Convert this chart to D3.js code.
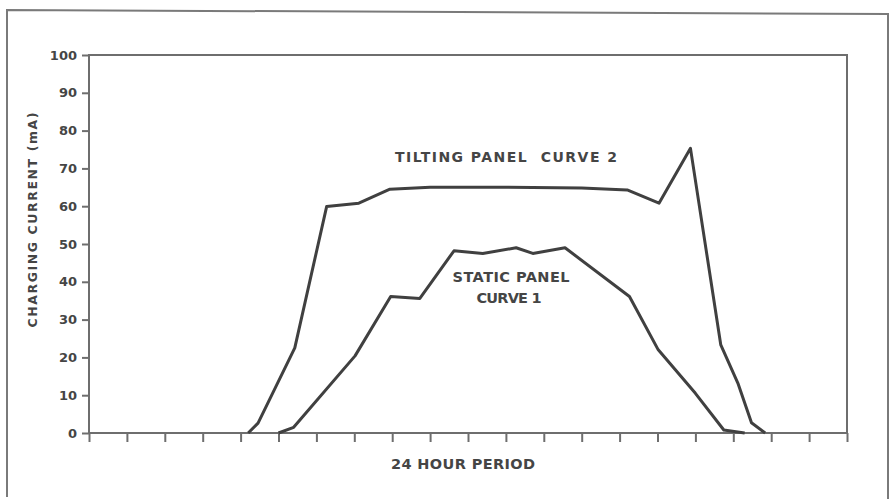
<!DOCTYPE html>
<html>
<head>
<meta charset="utf-8">
<script src="https://cdn.jsdelivr.net/npm/d3@7"></script>
<style>
  body { margin: 0; background: #fff; }
  text { font-family: "DejaVu Sans", sans-serif; font-weight: bold; fill: #454545; white-space: pre; }
</style>
</head>
<body>
<script>
// hour slots along the x axis (20 intervals), current in mA
var tiltX = [4.2, 4.46, 5.43, 6.27, 7.12, 7.94, 9, 11, 13, 14.2, 15.04, 15.87, 16.67, 17.12, 17.48, 17.84];
var tiltY = [0, 2.6, 22.5, 59.9, 60.8, 64.5, 65, 65, 64.8, 64.3, 60.8, 75.3, 23.3, 13.2, 2.7, 0];

var staticX = [5.0, 5.4, 7.02, 7.96, 8.73, 9.63, 10.39, 11.27, 11.71, 12.56, 14.26, 15.02, 16.0, 16.75, 17.3];
var staticY = [0, 1.5, 20.4, 36.1, 35.6, 48.2, 47.5, 49, 47.5, 49, 36.1, 22, 10.5, 0.8, 0];

var yTicks = [0, 10, 20, 30, 40, 50, 60, 70, 80, 90, 100];
var xTicks = d3.range(0, 21);

var W = 895, H = 499;
var plotLeft = 89, plotRight = 847, plotTop = 55, plotBottom = 433;

var svg = d3.select("body").append("svg")
	.attr("width", W)
	.attr("height", H);

// outer frame
svg.append("path")
	.attr("d", "M7,497 L7,10 L888,14 L888,499")
	.attr("fill", "none")
	.attr("stroke", "#7a7a7a")
	.attr("stroke-width", 2);

var x = d3.scaleLinear().domain([0, 20]).range([plotLeft, plotRight]);
var y = d3.scaleLinear().domain([0, 100]).range([plotBottom, plotTop]);

// plot box
svg.append("rect")
	.attr("x", plotLeft).attr("y", plotTop)
	.attr("width", plotRight - plotLeft).attr("height", plotBottom - plotTop)
	.attr("fill", "none")
	.attr("stroke", "#6e6e6e")
	.attr("stroke-width", 2);

var yAxis = svg.append("g")
	.attr("transform", "translate(" + plotLeft + ",0)")
	.call(d3.axisLeft(y).tickValues(yTicks).tickSize(7).tickPadding(5));

var xAxis = svg.append("g")
	.attr("transform", "translate(0," + plotBottom + ")")
	.call(d3.axisBottom(x).tickValues(xTicks).tickSize(9).tickFormat(""));

yAxis.select(".domain").remove();
xAxis.select(".domain").remove();
svg.selectAll(".tick line")
	.attr("stroke", "#6e6e6e")
	.attr("stroke-width", 2);
yAxis.selectAll("text")
	.style("font-size", "13px")
	.attr("fill", "#454545");

var line = d3.line()
	.x(function(d){ return x(d[0]); })
	.y(function(d){ return y(d[1]); });

var tiltData = tiltX.map(function(v, i){ return [v, tiltY[i]]; });
var staticData = staticX.map(function(v, i){ return [v, staticY[i]]; });

svg.append("path")
	.datum(tiltData)
	.attr("d", line)
	.attr("fill", "none")
	.attr("stroke", "#404040")
	.attr("stroke-width", 3)
	.attr("stroke-linejoin", "round");

svg.append("path")
	.datum(staticData)
	.attr("d", line)
	.attr("fill", "none")
	.attr("stroke", "#404040")
	.attr("stroke-width", 3)
	.attr("stroke-linejoin", "round");

// labels
function label(txt, cx, cy, len, size){
	return svg.append("text")
		.attr("x", cx).attr("y", cy)
		.attr("text-anchor", "middle")
		.attr("textLength", len)
		.attr("lengthAdjust", "spacing")
		.style("font-size", size + "px")
		.text(txt);
}

label("TILTING PANEL  CURVE 2", 506, 162, 222, 14);
label("STATIC PANEL", 511, 282, 117, 14.5);
label("CURVE 1", 509, 303, 65, 14.5);
label("24 HOUR PERIOD", 463, 469, 144, 14.5);

svg.append("text")
	.attr("transform", "translate(37,220) rotate(-90)")
	.attr("text-anchor", "middle")
	.attr("textLength", 215)
	.attr("lengthAdjust", "spacing")
	.style("font-size", "12.5px")
	.text("CHARGING CURRENT (mA)");
</script>
</body>
</html>
